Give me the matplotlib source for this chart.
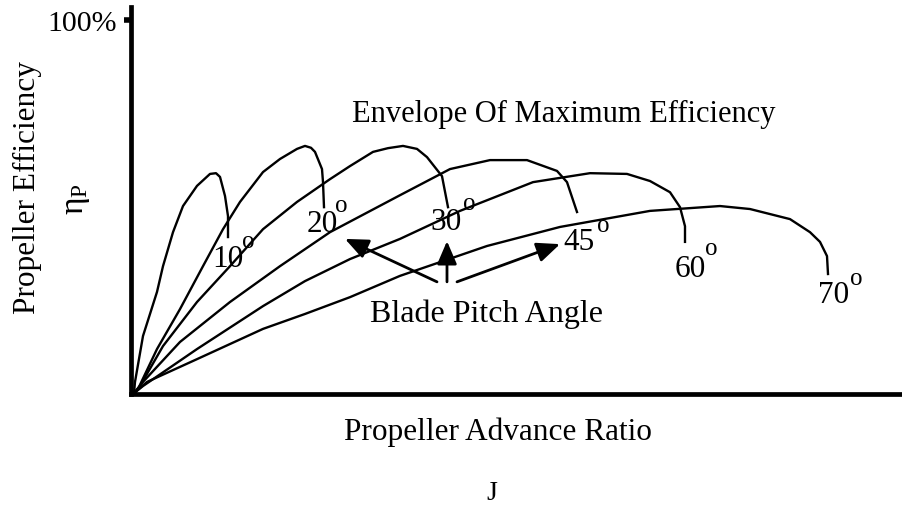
import matplotlib
matplotlib.use("Agg")
import matplotlib.pyplot as plt

plt.rcParams["font.family"] = ["Liberation Serif", "DejaVu Serif"]
plt.rcParams["mathtext.fontset"] = "custom"
plt.rcParams["mathtext.rm"] = "Liberation Serif"
plt.rcParams["mathtext.it"] = "Liberation Serif:italic"

# blade pitch angle curves: advance ratio J (arbitrary units) vs efficiency (%)
j_10 = [0.03, 0.04, 0.12, 0.26, 0.32, 0.42, 0.52, 0.66, 0.79, 0.85, 0.89, 0.94, 0.97, 0.97]
eta_10 = [0.1, 3.1, 15.4, 27.2, 34.1, 43.2, 50.2, 55.6, 58.8, 59.0, 58.0, 52.9, 47.5, 41.9]

j_20 = [0.03, 0.07, 0.26, 0.49, 0.72, 0.92, 1.09, 1.32, 1.49, 1.66, 1.74, 1.80, 1.84, 1.91, 1.92, 1.93]
eta_20 = [0.1, 1.2, 11.9, 22.6, 34.1, 44.0, 51.3, 59.3, 62.8, 65.5, 66.3, 65.8, 64.7, 60.1, 56.6, 49.9]

j_30 = [0.03, 0.09, 0.32, 0.66, 0.99, 1.32, 1.66, 1.99, 2.19, 2.42, 2.57, 2.72, 2.86, 2.96, 3.11, 3.17]
eta_30 = [0.1, 2.0, 12.7, 24.5, 34.1, 44.0, 51.3, 57.4, 60.9, 64.7, 65.7, 66.3, 65.5, 63.3, 58.2, 49.9]

j_45 = [0.03, 0.12, 0.49, 0.99, 1.49, 1.99, 2.69, 3.19, 3.59, 3.96, 4.26, 4.36, 4.46]
eta_45 = [0.1, 3.1, 13.8, 24.5, 34.1, 43.2, 53.1, 60.1, 62.5, 62.5, 59.6, 56.6, 48.6]

j_60 = [0.03, 0.12, 0.66, 1.32, 1.74, 2.19, 2.69, 3.29, 4.02, 4.59, 4.96, 5.19, 5.39, 5.49, 5.54, 5.54]
eta_60 = [0.1, 2.0, 11.9, 23.4, 30.1, 36.0, 41.4, 48.9, 56.6, 59.0, 58.8, 56.9, 53.9, 49.9, 44.8, 40.6]

j_70 = [0.03, 0.16, 0.66, 1.32, 1.74, 2.19, 2.69, 3.56, 4.29, 5.19, 5.89, 6.19, 6.59, 6.79, 6.89, 6.96, 6.97]
eta_70 = [0.1, 3.1, 9.2, 17.3, 21.3, 25.8, 31.5, 39.5, 44.6, 48.9, 50.2, 49.4, 46.7, 43.2, 40.6, 36.8, 32.0]

angle_labels = ["10", "20", "30", "45", "60", "70"]
label_pos = [(0.81, 34.1), (1.76, 43.5), (2.99, 44.0), (4.32, 38.7), (5.44, 31.5), (6.87, 24.5)]
degree_pos = [(1.11, 39.2), (2.04, 48.9), (3.32, 49.4), (4.66, 43.5), (5.74, 37.3), (7.19, 29.3)]

fig = plt.figure(figsize=(9.02, 5.06), dpi=100)
ax = fig.add_axes([131 / 902, 111.5 / 506, 770 / 902, 386.5 / 506])

for j, eta in [(j_10, eta_10), (j_20, eta_20), (j_30, eta_30),
               (j_45, eta_45), (j_60, eta_60), (j_70, eta_70)]:
    ax.plot(j, eta, color="black", lw=1.7, solid_joinstyle="round")

# angle labels, with a raised "o" as the degree sign
for lab, (x, y), (dx, dy) in zip(angle_labels, label_pos, degree_pos):
    ax.text(x, y, lab, fontsize=22.5, ha="left", va="baseline")
    ax.text(dx, dy, "o", fontsize=18, ha="left", va="baseline")

ax.text(2.21, 73.0, "Envelope Of Maximum Efficiency", fontsize=22, ha="left", va="baseline")
ax.text(2.39, 19.4, "Blade Pitch Angle", fontsize=23, ha="left", va="baseline")

arrow = dict(arrowstyle="-|>,head_length=0.7,head_width=0.3", color="black",
             lw=2.0, mutation_scale=20, shrinkA=0, shrinkB=0)
ax.annotate("", xy=(2.14, 41.4), xytext=(3.06, 29.9), arrowprops=arrow)
ax.annotate("", xy=(3.16, 40.8), xytext=(3.16, 29.9), arrowprops=arrow)
ax.annotate("", xy=(4.29, 40.0), xytext=(3.26, 29.9), arrowprops=arrow)

ax.set_xlim(0, 7.70)
ax.set_ylim(0, 103.5)
for side in ["top", "right"]:
    ax.spines[side].set_visible(False)
for side in ["left", "bottom"]:
    ax.spines[side].set_linewidth(3.4)
ax.set_xticks([])
ax.set_yticks([100])
ax.set_yticklabels(["100%"], fontsize=21.5)
ax.tick_params(axis="y", length=5, width=4, pad=5)

fig.text(27 / 902, 1 - 188 / 506, "Propeller Efficiency", rotation=90, fontsize=22.5,
         ha="center", va="center")
fig.text(77 / 902, 1 - 199 / 506, r"$\mathrm{\eta}_{\mathrm{P}}$", rotation=90, fontsize=24,
         ha="center", va="center")
fig.text(498 / 902, 1 - 440 / 506, "Propeller Advance Ratio", fontsize=22.5,
         ha="center", va="baseline")
fig.text(492 / 902, 1 - 500 / 506, "J", fontsize=20, ha="center", va="baseline")

fig.savefig("out.png", dpi=100)
